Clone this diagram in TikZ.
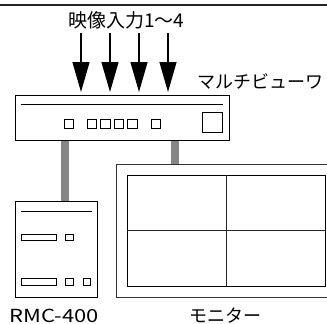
\documentclass[tikz,border=0pt]{standalone}
\usepackage{fontspec}
\setmainfont{Noto Sans CJK JP}
\usetikzlibrary{arrows.meta}
\begin{document}
\begin{tikzpicture}[x=1pt,y=-1pt,
  box/.style={draw=black, line width=1pt, inner sep=0pt, outer sep=0pt, anchor=north west},
  part/.style={draw=black, line width=0.9pt},
  cable/.style={draw=black!48, line width=8pt, shorten <=0.5pt, shorten >=0.5pt},
  inarrow/.style={draw=black, line width=1.2pt, -{Triangle[length=30pt,width=17pt]}},
  lbl/.style={inner sep=0pt, outer sep=0pt, text=black}
]
\useasboundingbox (0,0) rectangle (327,324);
\fill[white] (0,0) rectangle (327,324);
% top rule
\draw[black!85, line width=1.5pt] (0,5) -- (327,5);

% multiviewer
\node[box, minimum width=214pt, minimum height=45pt] (mv) at (15,95) {};
\draw[part] (21,104) -- (223,104);
\foreach \x in {64,87,100.5,114,127.5,151} {
  \draw[part] (\x,119) rectangle ++(9.5,9.5);
}
\draw[part] (202,112) rectangle (222,132);
\node[lbl, font=\fontsize{18}{18}\selectfont] (mvlabel) at (260,81) {マルチビューワ};

% inputs
\node[lbl, font=\fontsize{19}{19}\selectfont] (inlabel) at (126.5,20.5) {映像入力1～4};
\foreach \i/\x in {1/81,2/110,3/139,4/168} {
  \coordinate (in\i) at (\x,33);
  \draw[inarrow] (in\i) -- ([yshift=3pt]in\i |- mv.north);
}

% RMC-400
\node[box, minimum width=82pt, minimum height=96pt] (rmc) at (15,201) {};
\draw[part] (21,211) -- (92,211);
\draw[part] (21,234.3) rectangle (56,240.7);
\draw[part] (65.7,234.3) rectangle (73.3,240.7);
\draw[part] (21,278) rectangle (56,285);
\draw[part] (65.7,278) rectangle (73.3,285);
\draw[part] (83.3,278) rectangle (90.7,285);
\node[lbl, font=\fontsize{18}{18}\selectfont] (rmclabel) at (54,316) {\scalebox{1.22}[1]{RMC-400}};

% monitor
\coordinate (montl) at (116,164);
\coordinate (monbl) at (116,297);
\node[inner sep=0pt, outer sep=0pt, minimum width=211pt, minimum height=133pt, anchor=north west] (mon) at (montl) {};
\draw[draw=black!80, line width=1pt] (327.5,164) -- (montl) -- (monbl) -- (327.5,297);
\draw[black, line width=1pt] (127,175) rectangle (325,286);
\draw[black!85, line width=0.8pt] (226,175) -- (226,286);
\draw[black!85, line width=0.8pt] (127,230) -- (325,230);
\node[lbl, font=\fontsize{18}{18}\selectfont] (monlabel) at (225.5,315.5) {モニター};

% cables
\draw[cable] (mv.south -| 65,0) -- (rmc.north -| 65,0);
\draw[cable] (mv.south -| 175,0) -- (mon.north -| 175,0);
\end{tikzpicture}
\end{document}
